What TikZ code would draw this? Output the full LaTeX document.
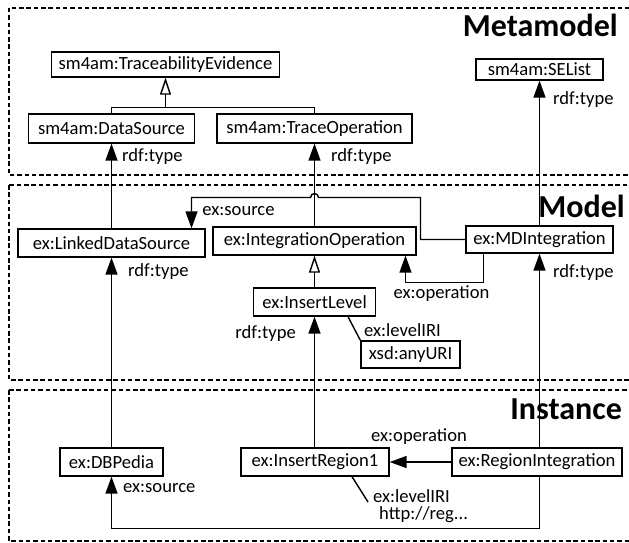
\documentclass[tikz,border=0pt]{standalone}
\usepackage{fontspec}
\setmainfont{Carlito}
\usetikzlibrary{arrows.meta}
\begin{document}
\begin{tikzpicture}[x=1pt,y=-1pt,
  box/.style={draw, line width=1.3pt, inner sep=0pt, font=\fontsize{18.6}{20}\selectfont},
  lbl/.style={inner sep=0pt, font=\fontsize{18.6}{20}\selectfont},
  ttl/.style={inner sep=0pt, font=\fontsize{32}{36}\selectfont\bfseries},
  panel/.style={draw, line width=2.8pt, dash pattern=on 4.5pt off 2.8pt},
  conn/.style={line width=1.4pt},
  arr/.style={conn, -{Triangle[length=17pt,width=12pt]}},
  gen/.style={conn, -{Triangle[open,length=17pt,width=11pt,fill=white]}}]
\useasboundingbox (0,0) rectangle (629,543);
% panels
\draw[panel] (9,8) rectangle (645,175);
\draw[panel] (9,185) rectangle (645,380);
\draw[panel] (9,390) rectangle (645,541);
\node[ttl, anchor=base east] (tmeta) at (618,37) {Metamodel};
\node[ttl, anchor=base east] (tmodel) at (625,217) {Model};
\node[ttl, anchor=base east] (tinst) at (622,419) {Instance};
% metamodel nodes
\node[box, minimum width=228pt, minimum height=25pt] (te) at (165.5,64.5) {sm4am:TraceabilityEvidence};
\node[box, minimum width=166pt, minimum height=29pt] (ds) at (111.5,128.5) {sm4am:DataSource};
\node[box, minimum width=195pt, minimum height=29pt] (to) at (314.5,128.5) {sm4am:TraceOperation};
\node[box, minimum width=127pt, minimum height=21pt] (sel) at (539.5,69.5) {sm4am:SEList};
% model nodes
\node[box, minimum width=187pt, minimum height=28pt] (lds) at (111.5,243) {ex:LinkedDataSource};
\node[box, minimum width=203pt, minimum height=28pt] (io) at (314.5,241) {ex:IntegrationOperation};
\node[box, minimum width=147pt, minimum height=27pt] (mdi) at (539.5,239.5) {ex:MDIntegration};
\node[box, minimum width=122pt, minimum height=28pt] (il) at (314.5,302) {ex:InsertLevel};
\node[box, minimum width=99pt, minimum height=27pt] (au) at (410.5,354.5) {xsd:anyURI};
% instance nodes
\node[box, minimum width=103pt, minimum height=28pt] (db) at (111.5,462) {ex:DBPedia};
\node[box, minimum width=148pt, minimum height=28pt] (ir) at (315,462) {ex:InsertRegion1};
\node[box, minimum width=170pt, minimum height=28pt] (ri) at (537,462) {ex:RegionIntegration};
% generalization in metamodel
\coordinate (j) at (165.5,107.5);
\draw[conn] (ds.north) |- (j) -| (to.north);
\draw[gen] (j) -- (te.south);
% rdf:type edges
\draw[arr] (lds.north) -- (ds.south);
\draw[arr] (io.north) -- (to.south);
\draw[arr] (mdi.north) -- (sel.south);
\draw[arr] (mdi.south |- ri.north) -- (mdi.south);
\draw[arr] (db.north) -- (lds.south);
\draw[arr] (il.south |- ir.north) -- (il.south);
\node[lbl, anchor=west] (l1) at (122,157) {rdf:type};
\node[lbl, anchor=west] (l2) at (331,157) {rdf:type};
\node[lbl, anchor=west] (l3) at (553,100) {rdf:type};
\node[lbl, anchor=west] (l4) at (553,273) {rdf:type};
\node[lbl, anchor=west] (l5) at (128,272) {rdf:type};
\node[lbl, anchor=east] (l6) at (296,334) {rdf:type};
% generalization in model
\draw[gen] (il.north) -- (io.south);
% ex:source in model with hop
\coordinate (s1) at (191.5,197.5);
\draw[arr] (mdi.west) -- (420.5,239.5) -- (420.5,197.5) -- (318.5,197.5)
  arc[start angle=0, end angle=-180, radius=4] -- (s1) -- (s1 |- lds.north);
\node[lbl] (l7) at (238.5,211) {ex:source};
% ex:operation in model
\coordinate (o1) at (483.5,282.5);
\coordinate (o2) at (405.5,282.5);
\draw[arr] (o1 |- mdi.south) -- (o1) -- (o2) -- (o2 |- io.south);
\node[lbl] (l8) at (441.5,294) {ex:operation};
% ex:levelIRI in model
\coordinate (v1) at (348,0);
\draw[conn] (v1 |- il.south) -- (au.north west);
\node[lbl, anchor=west] (l9) at (364,330) {ex:levelIRI};
% instance edges
\draw[arr] (ri.west) -- (ir.east);
\node[lbl] (l10) at (419,437) {ex:operation};
\coordinate (s2) at (539.5,528.5);
\draw[arr] (s2 |- ri.south) -- (s2) -| (db.south);
\node[lbl, anchor=west] (l11) at (123,488) {ex:source};
\coordinate (v2) at (352,0);
\coordinate (v3) at (368,502);
\draw[conn] (v2 |- ir.south) -- (v3);
\node[lbl, anchor=west] (l12) at (373,496) {ex:levelIRI};
\node[lbl, anchor=west] (l13) at (379,515) {http://reg...};
\end{tikzpicture}
\end{document}
